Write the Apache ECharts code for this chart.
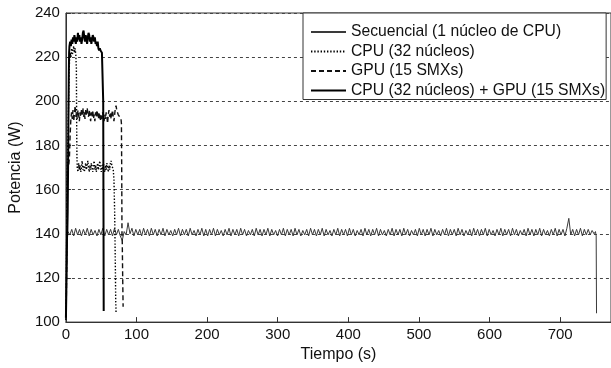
<!DOCTYPE html>
<html>
<head>
<meta charset="utf-8">
<script src="https://cdn.jsdelivr.net/npm/echarts@6/dist/echarts.min.js"></script>
<style>
html,body{margin:0;padding:0;background:#fff;}
#c{width:611px;height:368px;}
</style>
</head>
<body>
<div id="c"></div>
<script>
// ---- data (time in s, power in W) ----
const seriesNames = [
  'Secuencial (1 núcleo de CPU)',
  'CPU (32 núcleos)',
  'GPU (15 SMXs)',
  'CPU (32 núcleos) + GPU (15 SMXs)'
];
const xTicks = [0, 100, 200, 300, 400, 500, 600, 700];
const yTicks = [100, 120, 140, 160, 180, 200, 220, 240];

// Secuencial: head, regularly sampled wave, tail
const seqHead = [[0,104],[1,122],[2,138]];
const seqStart = 2.75;
const seqStep = 2.75;
const seqWave = [
  141,139.5,142,139,142.5,139.5,142,139,142,139.5,142.5,139,142,139.5,141.5,139,142,139.5,142.5,139,
  142,139.5,142,139,142.5,139.5,142,139,137,141,139.5,145,140,142.5,139,142,139.5,142,139,142.5,
  139.5,142,139,142.5,139.5,142,139,142,139.5,142.5,139,142,139.5,141.5,139,142,139.5,142.5,139,142,
  139.5,142,139,142.5,139.5,141.5,139,142,139.5,142.5,139,142,139,142,139.5,142.5,139,142,139.5,141.5,
  139,142,139.5,142.5,139,142,139.5,142,139,142.5,139.5,142,139,141.5,139.5,142,139,142.5,139.5,142,
  139,142,139.5,142.5,139,142,139.5,141.5,139,142,139.5,142.5,139,142,139.5,142,139,142.5,139.5,142,
  139,141.5,139.5,142,139,142.5,139.5,142,139,142,139.5,142.5,139,142,139.5,141.5,139,142,139.5,142.5,
  139,142,139.5,142,139,142.5,139.5,142,139,141.5,139.5,142,139,142.5,139.5,142,139,142,139.5,142.5,
  139,142,139.5,141.5,139,142,139.5,142.5,139,142,139.5,142,139,142.5,139.5,142,139,141.5,139.5,142,
  139,142.5,139.5,142,139,142,139.5,142.5,139,142,139.5,141.5,139,142,139.5,142.5,139,142,139.5,142,
  139,142.5,139.5,142,139,141.5,139.5,142,139,142.5,139.5,142,139,142,139.5,142.5,139,142,139.5,141.5,
  139,142,139.5,142.5,139,142,139.5,142,139,142.5,139.5,142,139,141.5,139.5,142,139,142.5,139.5,142,
  139,142,139.5,142.5,139,142,139.5,141.5,139,142,139.5,142.5,139,142,139.5,142,139,142.5,147,139.5,
  142,139,142,139.5,142.5,139,142,139.5,142,139.5,141.5,140
];
const seqTail = [[750,141],[751,139],[751.5,104]];

const cpuData = [
  [0,101],[0.5,110],[1,135],[1.5,160],[2,170],[3,185],[4,205],[5,218],[6,222],[7,220],[8,224],[9,221],
  [10,223],[11,225],[12,222],[13,224],[14,221],[14.8,215],[15.2,190],[15.6,175],[16,170],[17,168],[18,172],
  [19,169],[20,171],[21,168],[22,170],[23,173],[24,169],[25,171],[26,168],[27,170],[28,172],[29,169],
  [30,171],[31,173],[32,170],[33,168],[34,171],[35,169],[36,172],[37,170],[38,168],[39,171],[40,173],
  [41,169],[42,171],[43,168],[44,170],[45,172],[46,169],[47,171],[48,173],[49,170],[50,168],[51,171],
  [52,169],[53,172],[54,170],[55,168],[56,171],[57,169],[58,172],[59,170],[60,168],[61,171],[62,169],
  [63,172],[64,173],[65,171],[66,170],[67,169],[68,165],[69,150],[70,125],[70.5,110],[71,104]
];

const gpuData = [
  [0,101],[0.5,108],[1,125],[1.5,150],[2,165],[2.5,170],[3,172],[4,171],[5,175],[6,185],[7,192],[8,195],
  [9,192],[10,196],[11,191],[12,194],[13,198],[14,193],[15,195],[16,192],[17,196],[18,194],[19,191],
  [20,195],[21,193],[22,196],[23,194],[24,197],[25,193],[26,195],[27,192],[28,196],[29,194],[30,197],
  [31,195],[32,193],[33,196],[34,194],[35,191],[36,195],[37,193],[38,196],[39,192],[40,194],[41,191],
  [42,195],[43,193],[44,196],[45,194],[46,192],[47,195],[48,193],[49,191],[50,194],[51,192],[52,195],
  [53,193],[54,191],[55,194],[56,192],[57,195],[58,193],[59,190],[60,194],[61,196],[62,193],[63,195],
  [64,192],[65,194],[66,196],[67,193],[68,191],[69,194],[70,197],[71,198],[72,196],[73,195],[74,194],
  [75,194],[76,193],[77,193],[78,192],[78.6,190],[79,170],[79.4,140],[79.8,136],[80.4,120],[81,107]
];

const bothData = [
  [0,102],[0.5,112],[1,125],[1.5,138],[2,141],[2.5,150],[3,168],[3.5,190],[4,210],[4.5,222],[5,225],
  [6,227],[7,225],[8,228],[9,226],[10,229],[11,227],[12,230],[13,228],[14,226],[15,229],[16,227],
  [17,231],[18,228],[19,230],[20,227],[21,229],[22,226],[23,228],[24,231],[25,232],[26,229],[27,227],
  [28,230],[29,228],[30,226],[31,229],[32,231],[33,230],[34,227],[35,229],[36,226],[37,228],[38,230],
  [39,229],[40,227],[41,229],[42,226],[43,227],[44,225],[45,227],[46,224],[47,223],[48,224],[49,223],
  [50,223],[51,222],[52,222],[52.8,200],[53.2,150],[53.5,105]
];

// ---- build ----
const seqData = seqHead
  .concat(seqWave.map((v, i) => [seqStart + i * seqStep, v]))
  .concat(seqTail);

const chart = echarts.init(document.getElementById('c'), null, {renderer: 'canvas'});
const font = 'Liberation Sans, Arial, sans-serif';

chart.setOption({
  animation: false,
  backgroundColor: '#fff',
  grid: {
    left: 61, top: 13, width: 553, height: 311,
    show: true, borderColor: '#333', borderWidth: 1, backgroundColor: 'transparent'
  },
  legend: {
    orient: 'vertical',
    left: 303, top: 13,
    padding: [11, 1, 1, 7],
    itemGap: 3.5,
    itemWidth: 35,
    itemHeight: 14,
    backgroundColor: '#fff',
    borderColor: '#333',
    borderWidth: 1,
    borderRadius: 0,
    itemStyle: {opacity: 0},
    textStyle: {fontFamily: font, fontSize: 15.7, color: '#111'},
    data: seriesNames
  },
  xAxis: {
    type: 'value', min: 0, max: 772, interval: 100,
    name: 'Tiempo (s)', nameLocation: 'middle', nameGap: 24,
    nameTextStyle: {fontFamily: font, fontSize: 16, color: '#111'},
    axisLine: {show: true, lineStyle: {color: '#333', width: 1}},
    axisTick: {show: true, inside: true, length: 5, lineStyle: {color: '#333'}},
    axisLabel: {fontFamily: font, fontSize: 15, color: '#111', margin: 5, showMaxLabel: false,
      formatter: v => (xTicks.indexOf(v) >= 0 ? String(v) : '')},
    splitLine: {show: false}
  },
  yAxis: {
    type: 'value', min: 100, max: 240, interval: 20,
    name: 'Potencia (W)', nameLocation: 'middle', nameGap: 38,
    nameTextStyle: {fontFamily: font, fontSize: 16, color: '#111'},
    axisLine: {show: true, lineStyle: {color: '#333', width: 1}},
    axisTick: {show: true, inside: true, length: 5, lineStyle: {color: '#333'}},
    axisLabel: {fontFamily: font, fontSize: 15, color: '#111', margin: 6,
      formatter: v => (yTicks.indexOf(v) >= 0 ? String(v) : '')},
    splitLine: {show: true, lineStyle: {color: '#444', width: 1, type: [3, 3]}}
  },
  series: [
    {name: seriesNames[0], type: 'line', data: seqData, showSymbol: false, symbol: 'none',
     lineStyle: {color: '#3a3a3a', width: 1, type: 'solid'}, itemStyle: {color: '#3a3a3a'}, z: 2},
    {name: seriesNames[1], type: 'line', data: cpuData, showSymbol: false, symbol: 'none',
     lineStyle: {color: '#000', width: 1.4, type: [1.4, 1.8]}, itemStyle: {color: '#000'}, z: 3},
    {name: seriesNames[2], type: 'line', data: gpuData, showSymbol: false, symbol: 'none',
     lineStyle: {color: '#111', width: 1.4, type: [5, 3]}, itemStyle: {color: '#111'}, z: 4},
    {name: seriesNames[3], type: 'line', data: bothData, showSymbol: false, symbol: 'none',
     lineStyle: {color: '#000', width: 2, type: 'solid'}, itemStyle: {color: '#000'}, z: 5}
  ]
});
</script>
</body>
</html>
